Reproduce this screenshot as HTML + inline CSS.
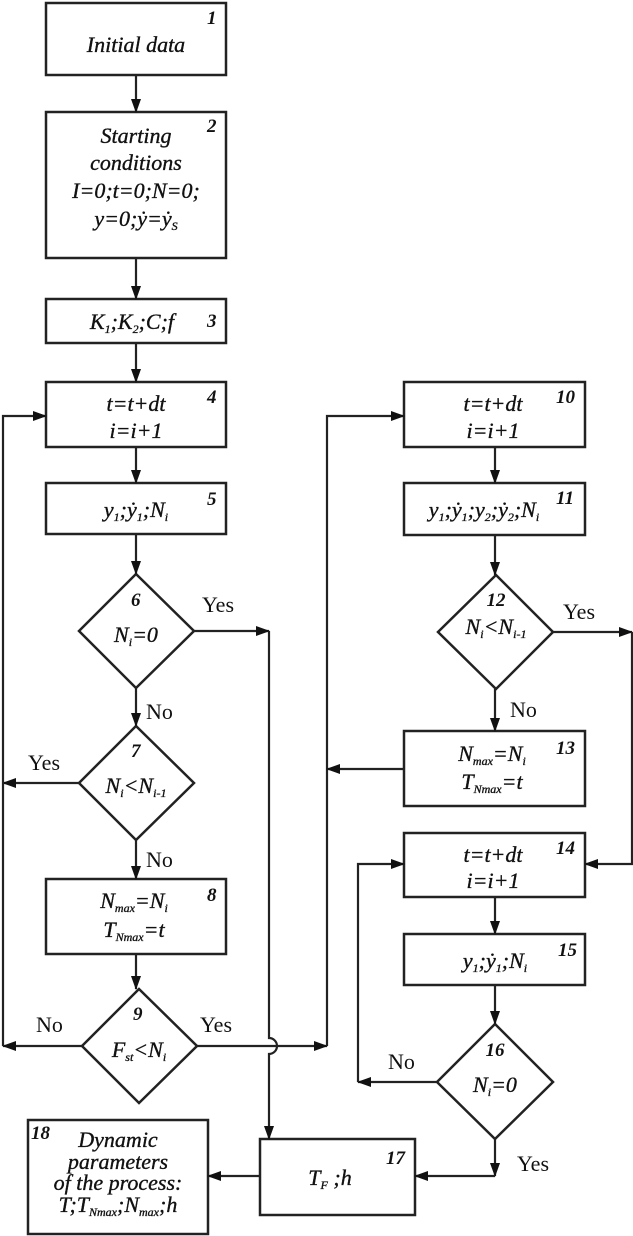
<!DOCTYPE html>
<html><head><meta charset="utf-8"><style>
html,body{margin:0;padding:0;background:#fff}
svg{display:block}
text{font-family:"Liberation Serif",serif;fill:#111}
.t{font-style:italic;font-size:22px;stroke:#111;stroke-width:0.35px}
.n{font-style:italic;font-weight:bold;font-size:19px}
.l{font-size:22px}
.s{font-size:12px;font-style:italic}
</style></head><body>
<svg width="633" height="1236" viewBox="0 0 633 1236" xmlns="http://www.w3.org/2000/svg">
<defs><marker id="a" markerWidth="14" markerHeight="10" refX="13" refY="5" orient="auto" markerUnits="userSpaceOnUse"><path d="M0,0 L14,5 L0,10 Z" fill="#111"/></marker></defs>
<g fill="none" stroke="#222" stroke-width="2.5">
<rect x="46" y="3" width="180" height="72"/>
<rect x="46" y="112" width="180" height="146"/>
<rect x="46" y="299" width="180" height="44"/>
<rect x="46" y="382" width="180" height="65"/>
<rect x="46" y="483" width="180" height="51"/>
<polygon points="136,574 194,631 136,688 79,631"/>
<polygon points="136,726 194,783 136,840 79,783"/>
<rect x="46" y="879" width="180" height="75"/>
<polygon points="139,989 197,1046 139,1103 82,1046"/>
<rect x="404" y="382" width="181" height="65"/>
<rect x="404" y="483" width="181" height="52"/>
<polygon points="496,575 553,632 496,689 438,632"/>
<rect x="404" y="731" width="181" height="75"/>
<rect x="404" y="833" width="181" height="64"/>
<rect x="404" y="934" width="181" height="51"/>
<polygon points="495,1024 553,1082 495,1139 437,1082"/>
<rect x="260" y="1139" width="155" height="76"/>
<rect x="28" y="1120" width="180" height="114"/>
</g>
<g fill="none" stroke="#222" stroke-width="2.2" marker-end="url(#a)">
<line x1="136" y1="75" x2="136" y2="112"/>
<line x1="136" y1="258" x2="136" y2="299"/>
<line x1="136" y1="343" x2="136" y2="382"/>
<line x1="136" y1="447" x2="136" y2="483"/>
<line x1="136" y1="534" x2="136" y2="574"/>
<line x1="136" y1="688" x2="136" y2="726"/>
<line x1="136" y1="840" x2="136" y2="879"/>
<line x1="136" y1="954" x2="136" y2="989"/>
<line x1="79" y1="783" x2="3" y2="783"/>
<polyline points="82,1046 3,1046"/>
<polyline points="3,1046 3,416 46,416"/>
<line x1="197" y1="1046" x2="327" y2="1046"/>
<polyline points="327,1046 327,416 404,416"/>
<line x1="404" y1="769" x2="327" y2="769"/>
<line x1="194" y1="631" x2="269" y2="631"/>
<path d="M269,631 L269,1038 A8,8 0 0 1 269,1054 L269,1139"/>
<line x1="495" y1="447" x2="495" y2="483"/>
<line x1="495" y1="535" x2="495" y2="575"/>
<line x1="495" y1="689" x2="495" y2="731"/>
<line x1="553" y1="632" x2="632" y2="632"/>
<polyline points="632,632 632,864 585,864"/>
<line x1="495" y1="897" x2="495" y2="934"/>
<line x1="495" y1="985" x2="495" y2="1024"/>
<line x1="437" y1="1082" x2="358" y2="1082"/>
<polyline points="358,1082 358,864 404,864"/>
<line x1="495" y1="1139" x2="495" y2="1176"/>
<polyline points="495,1176 415,1176"/>
<line x1="260" y1="1176" x2="208" y2="1176"/>
</g>
<g>
<text class="n" x="207" y="24">1</text>
<text class="t" x="136" y="52" text-anchor="middle">Initial data</text>
<text class="n" x="207" y="132">2</text>
<text class="t" x="136" y="143" text-anchor="middle">Starting</text>
<text class="t" x="136" y="170" text-anchor="middle">conditions</text>
<text class="t" x="136" y="198" text-anchor="middle">I=0;t=0;N=0;</text>
<text class="t" x="136" y="226" text-anchor="middle">y=0;ẏ=ẏ<tspan class="s" dy="4">S</tspan></text>
<text class="n" x="207" y="327">3</text>
<text class="t" x="132" y="329" text-anchor="middle">K<tspan class="s" dy="4">1</tspan><tspan dy="-4">;K</tspan><tspan class="s" dy="4">2</tspan><tspan dy="-4">;C;f</tspan></text>
<text class="n" x="207" y="403">4</text>
<text class="t" x="136" y="411" text-anchor="middle">t=t+dt</text>
<text class="t" x="136" y="438" text-anchor="middle">i=i+1</text>
<text class="n" x="207" y="505">5</text>
<text class="t" x="136" y="517" text-anchor="middle">y<tspan class="s" dy="4">1</tspan><tspan dy="-4">;ẏ</tspan><tspan class="s" dy="4">1</tspan><tspan dy="-4">;N</tspan><tspan class="s" dy="4">i</tspan></text>
<text class="n" x="131" y="606">6</text>
<text class="t" x="136" y="642" text-anchor="middle">N<tspan class="s" dy="4">i</tspan><tspan dy="-4">=0</tspan></text>
<text class="n" x="131" y="757">7</text>
<text class="t" x="136" y="793" text-anchor="middle">N<tspan class="s" dy="4">i</tspan><tspan dy="-4">&lt;N</tspan><tspan class="s" dy="4">i-1</tspan></text>
<text class="n" x="207" y="901">8</text>
<text class="t" x="134" y="908" text-anchor="middle">N<tspan class="s" dy="4">max</tspan><tspan dy="-4">=N</tspan><tspan class="s" dy="4">i</tspan></text>
<text class="t" x="134" y="937" text-anchor="middle">T<tspan class="s" dy="4">Nmax</tspan><tspan dy="-4">=t</tspan></text>
<text class="n" x="133" y="1020">9</text>
<text class="t" x="139" y="1057" text-anchor="middle">F<tspan class="s" dy="4">st</tspan><tspan dy="-4">&lt;N</tspan><tspan class="s" dy="4">i</tspan></text>
<text class="n" x="556" y="403">10</text>
<text class="t" x="493" y="411" text-anchor="middle">t=t+dt</text>
<text class="t" x="493" y="438" text-anchor="middle">i=i+1</text>
<text class="n" x="556" y="504">11</text>
<text class="t" x="484" y="517" text-anchor="middle">y<tspan class="s" dy="4">1</tspan><tspan dy="-4">;ẏ</tspan><tspan class="s" dy="4">1</tspan><tspan dy="-4">;y</tspan><tspan class="s" dy="4">2</tspan><tspan dy="-4">;ẏ</tspan><tspan class="s" dy="4">2</tspan><tspan dy="-4">;N</tspan><tspan class="s" dy="4">i</tspan></text>
<text class="n" x="496" y="606" text-anchor="middle">12</text>
<text class="t" x="496" y="634" text-anchor="middle">N<tspan class="s" dy="4">i</tspan><tspan dy="-4">&lt;N</tspan><tspan class="s" dy="4">i-1</tspan></text>
<text class="n" x="556" y="754">13</text>
<text class="t" x="492" y="761" text-anchor="middle">N<tspan class="s" dy="4">max</tspan><tspan dy="-4">=N</tspan><tspan class="s" dy="4">i</tspan></text>
<text class="t" x="492" y="789" text-anchor="middle">T<tspan class="s" dy="4">Nmax</tspan><tspan dy="-4">=t</tspan></text>
<text class="n" x="556" y="854">14</text>
<text class="t" x="493" y="862" text-anchor="middle">t=t+dt</text>
<text class="t" x="493" y="888" text-anchor="middle">i=i+1</text>
<text class="n" x="558" y="956">15</text>
<text class="t" x="495" y="968" text-anchor="middle">y<tspan class="s" dy="4">1</tspan><tspan dy="-4">;ẏ</tspan><tspan class="s" dy="4">1</tspan><tspan dy="-4">;N</tspan><tspan class="s" dy="4">i</tspan></text>
<text class="n" x="495" y="1056" text-anchor="middle">16</text>
<text class="t" x="495" y="1092" text-anchor="middle">N<tspan class="s" dy="4">i</tspan><tspan dy="-4">=0</tspan></text>
<text class="n" x="386" y="1164">17</text>
<text class="t" x="330" y="1185" text-anchor="middle">T<tspan class="s" dy="4">F</tspan><tspan dy="-4"> ;h</tspan></text>
<text class="n" x="31" y="1139">18</text>
<text class="t" x="118" y="1147" text-anchor="middle">Dynamic</text>
<text class="t" x="118" y="1169" text-anchor="middle">parameters</text>
<text class="t" x="118" y="1190" text-anchor="middle">of the process:</text>
<text class="t" x="118" y="1212" text-anchor="middle">T;T<tspan class="s" dy="4">Nmax</tspan><tspan dy="-4">;N</tspan><tspan class="s" dy="4">max</tspan><tspan dy="-4">;h</tspan></text>
<text class="l" x="202" y="612">Yes</text>
<text class="l" x="146" y="719">No</text>
<text class="l" x="28" y="770">Yes</text>
<text class="l" x="146" y="867">No</text>
<text class="l" x="36" y="1032">No</text>
<text class="l" x="200" y="1032">Yes</text>
<text class="l" x="563" y="619">Yes</text>
<text class="l" x="510" y="717">No</text>
<text class="l" x="388" y="1069">No</text>
<text class="l" x="517" y="1171">Yes</text>
</g>
</svg>
</body></html>
